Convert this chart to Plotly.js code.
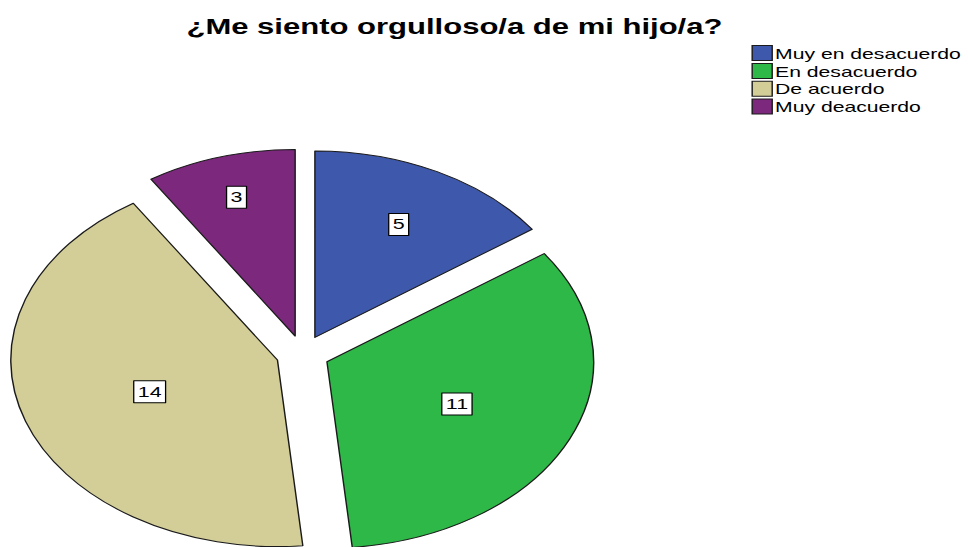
<!DOCTYPE html>
<html>
<head>
<meta charset="utf-8">
<script src="https://cdn.plot.ly/plotly-3.0.1.min.js"></script>
<style>
  html, body { margin: 0; padding: 0; background: #fff; overflow: hidden; }
  #wrap { width: 968px; height: 547px; overflow: hidden; position: relative; }
  #chart { width: 677px; height: 600px; transform: scaleX(1.43); transform-origin: 0 0; }
</style>
</head>
<body>
<div id="wrap"><div id="chart"></div></div>
<script>
// Data
const categories = ["Muy en desacuerdo", "En desacuerdo", "De acuerdo", "Muy deacuerdo"];
const counts = [5, 11, 14, 3];
const colors = ["#3E58AC", "#2EB848", "#D3CE97", "#7C287D"];
const chartTitle = "¿Me siento orgulloso/a de mi hijo/a?";

const FONT = "'Liberation Sans', Arial, sans-serif";

const trace = {
  type: 'pie',
  labels: categories,
  values: counts,
  sort: false,
  direction: 'clockwise',
  rotation: 0,
  pull: 0.1,
  marker: { colors: colors, line: { color: '#1a1a1a', width: 1 } },
  textinfo: 'value',
  textposition: 'inside',
  insidetextorientation: 'horizontal',
  textfont: { family: FONT, size: 15, color: '#000' },
  hoverinfo: 'skip',
  domain: { x: [0.00827, 0.6198], y: [0.0681, 0.7519] }
};

const layout = {
  width: 677,
  height: 600,
  margin: { l: 0, r: 0, t: 0, b: 0 },
  paper_bgcolor: '#fff',
  plot_bgcolor: '#fff',
  title: {
    text: chartTitle,
    font: { family: FONT, size: 21.7, color: '#000', weight: 'bold' },
    x: 0.4715, xanchor: 'center', xref: 'paper',
    y: 1 - 26 / 600, yanchor: 'middle', yref: 'container'
  },
  showlegend: true,
  legend: {
    x: 0.745, xanchor: 'left',
    y: 1 - 37 / 600, yanchor: 'top',
    font: { family: FONT, size: 14.8, color: '#000' },
    bgcolor: 'rgba(0,0,0,0)',
    borderwidth: 0,
    traceorder: 'normal',
    itemclick: false
  }
};

const LEGEND_ROW = 17.8;

function decorate() {
  const gd = document.getElementById('chart');
  gd.querySelectorAll('g.slicetext').forEach(g => {
    g.querySelectorAll('rect.lblbox').forEach(r => r.remove());
    const t = g.querySelector('text');
    if (!t) return;
    const bb = t.getBBox();
    const r = document.createElementNS('http://www.w3.org/2000/svg', 'rect');
    r.setAttribute('class', 'lblbox');
    r.setAttribute('x', bb.x - 2.8);
    r.setAttribute('y', bb.y - 2);
    r.setAttribute('width', bb.width + 5.6);
    r.setAttribute('height', bb.height + 5);
    const tr = t.getAttribute('transform');
    if (tr) r.setAttribute('transform', tr);
    r.setAttribute('fill', '#ffffff');
    r.setAttribute('stroke', '#000');
    r.setAttribute('stroke-width', '0.9');
    g.insertBefore(r, t);
  });
  // tighten legend rows to the reference spacing
  const items = gd.querySelectorAll('.legend .traces');
  let y0 = null;
  items.forEach((it, i) => {
    const m = /translate\(\s*([-\d.e]+)[ ,]+([-\d.e]+)\s*\)/.exec(it.getAttribute('transform') || '');
    if (!m) return;
    if (y0 === null) y0 = parseFloat(m[2]);
    it.setAttribute('transform', 'translate(' + m[1] + ',' + (y0 + i * LEGEND_ROW) + ')');
  });
  // tighten legend symbol to text gap
  gd.querySelectorAll('.legend .legendpoints').forEach(p => {
    p.setAttribute('transform', 'translate(11,0)');
  });
  gd.querySelectorAll('.legend path.legendpie').forEach(p => {
    p.setAttribute('d', 'M7,7.5H-7V-7.5H7Z');
  });
}

Plotly.newPlot('chart', [trace], layout, { staticPlot: true, displayModeBar: false }).then(decorate);
</script>
</body>
</html>
